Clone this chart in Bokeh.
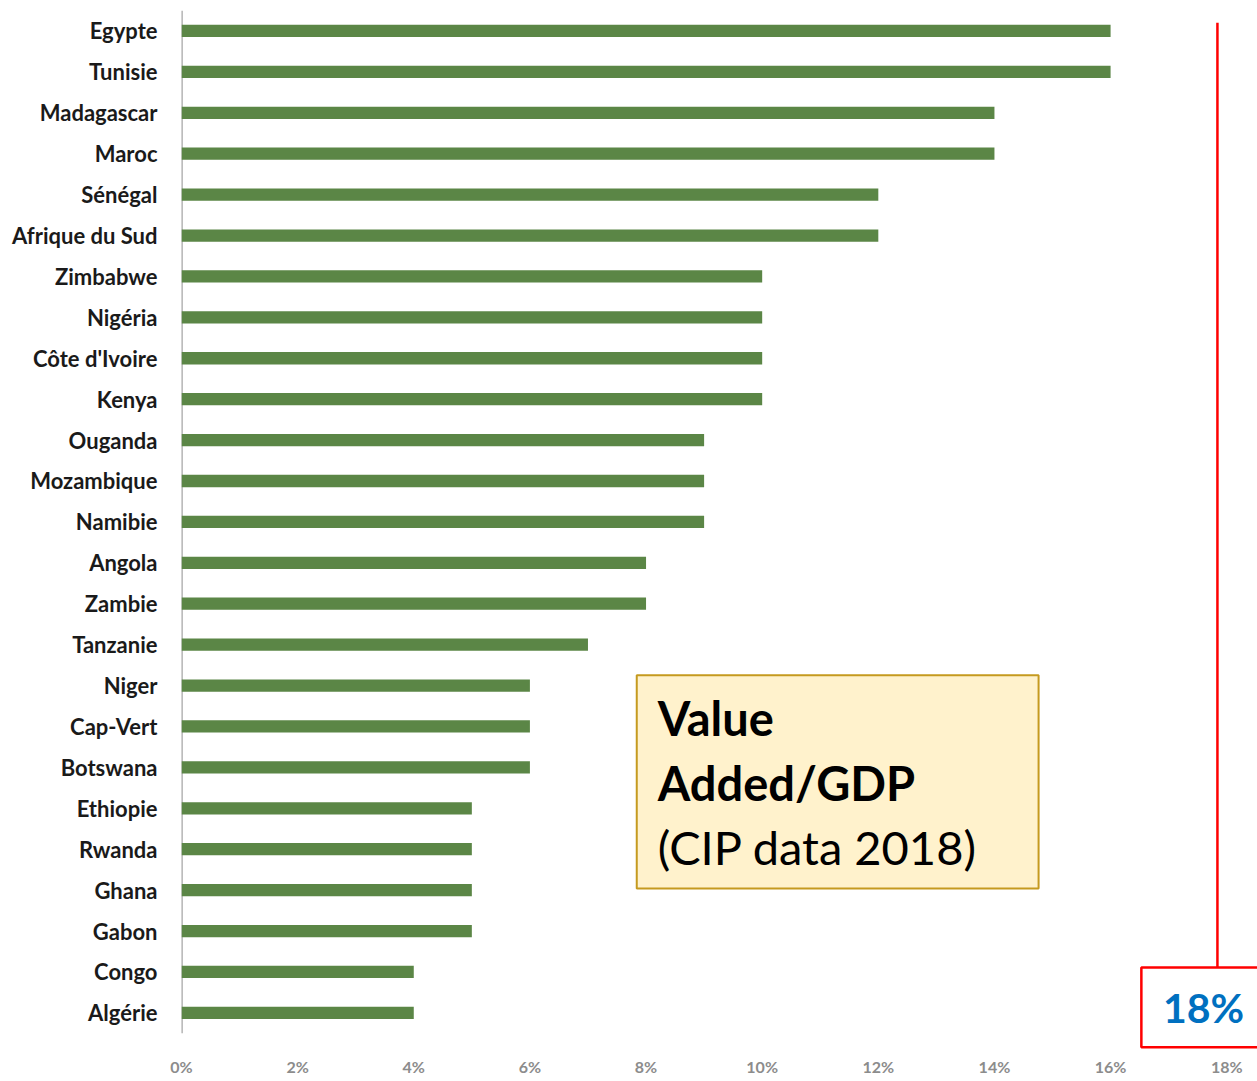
from bokeh.plotting import figure
from bokeh.models import FixedTicker, Label, BoxAnnotation, ColumnDataSource, Range1d
from bokeh.embed import file_html
from bokeh.resources import INLINE

countries = ["Egypte", "Tunisie", "Madagascar", "Maroc", "Sénégal", "Afrique du Sud",
             "Zimbabwe", "Nigéria", "Côte d'Ivoire", "Kenya", "Ouganda", "Mozambique",
             "Namibie", "Angola", "Zambie", "Tanzanie", "Niger", "Cap-Vert", "Botswana",
             "Ethiopie", "Rwanda", "Ghana", "Gabon", "Congo", "Algérie"]
values = [16, 16, 14, 14, 12, 12, 10, 10, 10, 10, 9, 9, 9, 8, 8, 7, 6, 6, 6, 5, 5, 5, 5, 4, 4]
x_ticks = [0, 2, 4, 6, 8, 10, 12, 14, 16, 18]
x_tick_labels = ["0%", "2%", "4%", "6%", "8%", "10%", "12%", "14%", "16%", "18%"]
highlight_text = "18%"
box_lines = ["Value", "Added/GDP", "(CIP data 2018)"]

n = len(countries)
ys = [n - 1 - i for i in range(n)]
src = ColumnDataSource(dict(y=ys, v=values, name=countries))

p = figure(width=1257, height=1081, output_backend="svg", toolbar_location=None,
           x_range=Range1d(0, 18.53), y_range=Range1d(-0.92, n - 0.5),
           min_border_left=181, min_border_right=0, min_border_top=10, min_border_bottom=31)
p.outline_line_color = None
p.background_fill_color = "white"
p.border_fill_color = "white"
p.xgrid.visible = False
p.ygrid.visible = False

# y axis line (only over the category span)
p.segment(x0=[0], x1=[0], y0=[-0.5], y1=[n - 0.5], line_color="#a6a6a6", line_width=2.5)

p.hbar(y="y", right="v", left=0, height=0.3, source=src, fill_color="#5b8646", line_color=None)

# x axis
p.xaxis.ticker = FixedTicker(ticks=x_ticks)
p.xaxis.major_label_overrides = {t: l for t, l in zip(x_ticks, x_tick_labels)}
p.xaxis.axis_line_color = None
p.xaxis.major_tick_line_color = None
p.xaxis.minor_tick_line_color = None
p.xaxis.major_label_standoff = 0
p.xaxis.major_label_text_font = "Lato"
p.xaxis.major_label_text_font_style = "bold"
p.xaxis.major_label_text_font_size = "16px"
p.xaxis.major_label_text_color = "#8c8c8c"

# y axis
p.yaxis.ticker = FixedTicker(ticks=ys)
p.yaxis.major_label_overrides = {y: c for y, c in zip(ys, countries)}
p.yaxis.axis_line_color = None
p.yaxis.major_tick_line_color = None
p.yaxis.minor_tick_line_color = None
p.yaxis.major_label_standoff = 18
p.yaxis.major_label_text_font = "Lato"
p.yaxis.major_label_text_font_style = "bold"
p.yaxis.major_label_text_font_size = "22px"
p.yaxis.major_label_text_color = "#1a1a1a"

# annotation box
box = BoxAnnotation(left=7.84, right=14.76, top=8.25, bottom=3.04,
                    fill_color="#fff2cc", fill_alpha=1.0,
                    line_color="#c59a1f", line_alpha=1.0, line_width=2)
p.add_layout(box)
line_ys = [7.2, 5.63, 4.05]
styles = ["bold", "bold", "normal"]
for txt, yy, st in zip(box_lines, line_ys, styles):
    p.add_layout(Label(x=8.2, y=yy, text=txt, text_font="Lato", text_font_style=st,
                       text_font_size="47px", text_color="black", text_baseline="middle",
                       text_align="left"))

# red callout
p.segment(x0=[17.84], x1=[17.84], y0=[24.2], y1=[1.11], line_color="#ff0000", line_width=2.5)
p.add_layout(BoxAnnotation(left=16.53, right=18.7, top=1.11, bottom=-0.84,
                           fill_color="white", fill_alpha=1.0,
                           line_color="#ff0000", line_alpha=1.0, line_width=2.5))
p.add_layout(Label(x=17.6, y=0.13, text=highlight_text, text_font="Lato", text_font_style="bold",
                   text_font_size="41px", text_color="#0070c0", text_align="center",
                   text_baseline="middle"))

open("out.html", "w").write(file_html(p, INLINE))
